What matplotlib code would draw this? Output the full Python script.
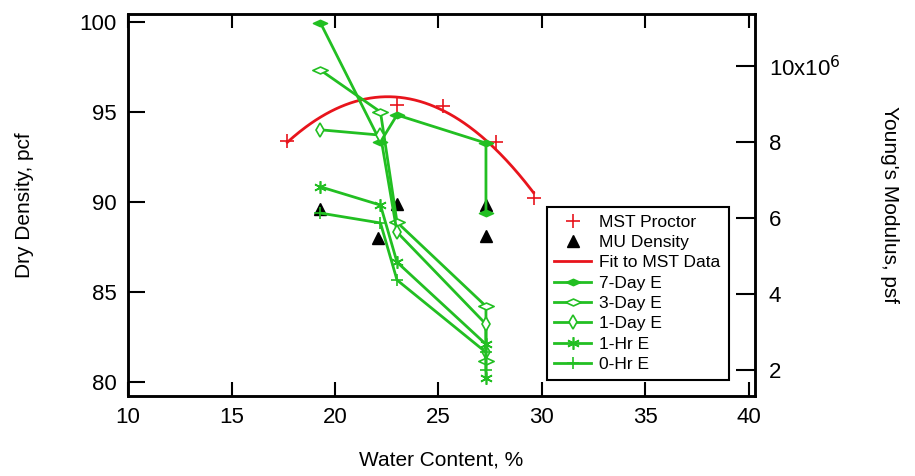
import matplotlib
matplotlib.use("Agg")
import matplotlib.pyplot as plt
from matplotlib.path import Path
import numpy as np

plt.rcParams['font.family'] = ['Liberation Sans', 'DejaVu Sans']

# dry density data (left axis, pcf)
mst_w = [17.7, 23.0, 25.2, 27.8, 29.6]
mst_dd = [93.4, 95.4, 95.3, 93.3, 90.2]
mu_w = [19.3, 22.1, 23.0, 27.3, 27.3]
mu_dd = [89.6, 88.0, 89.9, 89.8, 88.1]

# Young's modulus data (right axis, millions of psf)
e_w = [19.3, 22.2, 23.0, 27.3, 27.3]
e_7day = [11.13, 8.00, 8.71, 7.97, 6.13]
e_3day = [9.89, 8.79, 5.89, 3.68, 2.24]
e_1day = [8.32, 8.18, 5.63, 3.21, 2.47]
e_1hr = [6.82, 6.34, 4.84, 2.68, 1.79]
e_0hr = [6.13, 5.87, 4.37, 2.47, 2.00]

green = '#22bf22'
red = '#e8141c'

# flat diamond marker like in the original plot
flat_diamond = Path([(-1, 0), (0, 0.45), (1, 0), (0, -0.45), (-1, 0)],
                    [Path.MOVETO, Path.LINETO, Path.LINETO, Path.LINETO, Path.CLOSEPOLY])

fig = plt.figure(figsize=(9.15, 4.76), dpi=100)
ax = fig.add_axes([0.14, 0.168, 0.685, 0.803])
ax2 = ax.twinx()

# fit to proctor data
coef = np.polyfit(mst_w, mst_dd, 2)
wfit = np.linspace(min(mst_w), max(mst_w), 200)

h1, = ax.plot(mst_w, mst_dd, '+', color=red, ms=10, mew=1.2, label='MST Proctor')
h2, = ax.plot(mu_w, mu_dd, '^', color='black', ms=9, ls='none', label='MU Density')
h3, = ax.plot(wfit, np.polyval(coef, wfit), color=red, lw=2, label='Fit to MST Data')

kw = dict(color=green, lw=2, mew=1.2)
g1, = ax2.plot(e_w, e_7day, marker=flat_diamond, ms=10, mfc=green, label='7-Day E', **kw)
g2, = ax2.plot(e_w, e_3day, marker=flat_diamond, ms=11, mfc='white', label='3-Day E', **kw)
g3, = ax2.plot(e_w, e_1day, marker='d', ms=7, mfc='white', label='1-Day E', **kw)
g4, = ax2.plot(e_w, e_1hr, marker=(6, 2, 0), ms=9, label='1-Hr E', **kw)
g5, = ax2.plot(e_w, e_0hr, marker='+', ms=9, label='0-Hr E', **kw)

ax.set_xlim(10, 40.3)
ax.set_ylim(79.2, 100.45)
ax2.set_ylim(1.32, 11.37)

ax.set_xticks([10, 15, 20, 25, 30, 35, 40])
ax.set_yticks([80, 85, 90, 95, 100])
ax2.set_yticks([2, 4, 6, 8, 10])
ax2.set_yticklabels(['2', '4', '6', '8', r'10x10$^{6}$'])

ax.tick_params(axis='x', direction='in', top=True, length=10, width=1.5,
               labelsize=16, pad=8)
ax.tick_params(axis='y', direction='in', length=12, width=1.5, labelsize=16, pad=8)
ax2.tick_params(axis='y', direction='in', length=14, width=1.5, labelsize=16, pad=10)

for a in (ax, ax2):
    for s in a.spines.values():
        s.set_linewidth(1.8)

ax.set_xlabel('Water Content, %', fontsize=15, labelpad=16)
ax.set_ylabel('Dry Density, pcf', fontsize=15, labelpad=33)
ax2.set_ylabel("Young's Modulus, psf", fontsize=15, rotation=-90, labelpad=42)

leg = ax2.legend(handles=[h1, h2, h3, g1, g2, g3, g4, g5], loc='lower right',
                 bbox_to_anchor=(0.958, 0.042), borderaxespad=0, fontsize=12.5,
                 frameon=True, fancybox=False, handlelength=2.1, labelspacing=0.3,
                 borderpad=0.45, handletextpad=0.5, framealpha=1)
leg.get_frame().set_edgecolor('black')
leg.get_frame().set_linewidth(1.5)

fig.savefig('out.png', dpi=100)
